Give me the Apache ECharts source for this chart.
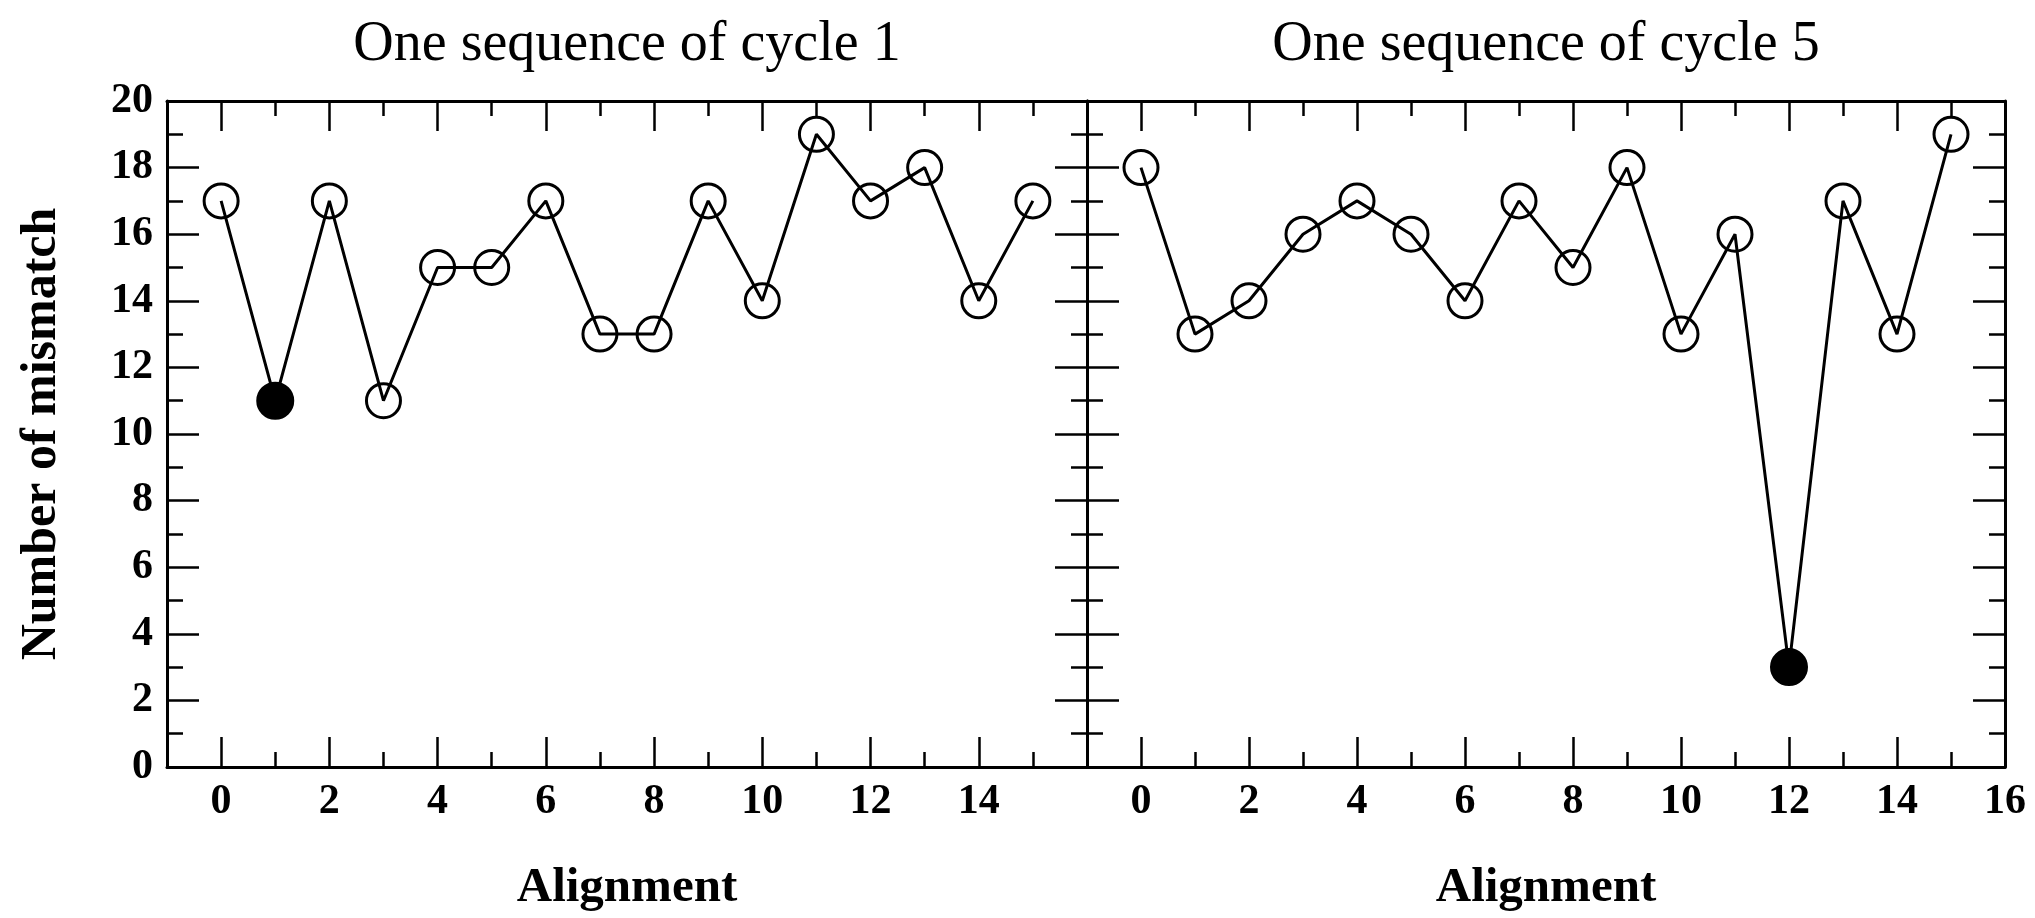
<!DOCTYPE html>
<html>
<head>
<meta charset="utf-8">
<script src="https://cdn.jsdelivr.net/npm/echarts@6/dist/echarts.min.js"></script>
<style>
  html, body { margin: 0; padding: 0; background: #fff; }
  #chart { width: 2035px; height: 918px; }
</style>
</head>
<body>
<div id="chart"></div>
<script>
// Mismatch counts per alignment shift for two sample sequences
const alignments = [0, 1, 2, 3, 4, 5, 6, 7, 8, 9, 10, 11, 12, 13, 14, 15];
const cycle1Mismatch = [17, 11, 17, 11, 15, 15, 17, 13, 13, 17, 14, 19, 17, 18, 14, 17];
const cycle5Mismatch = [18, 13, 14, 16, 17, 16, 14, 17, 15, 18, 13, 16, 3, 17, 13, 19];
// Alignment with the fewest mismatches (drawn as a filled dot)
const cycle1Best = 1;
const cycle5Best = 12;

const panelTitles = ['One sequence of cycle 1', 'One sequence of cycle 5'];
const xMajorTicks = [0, 2, 4, 6, 8, 10, 12, 14, 16];
const xMinorTicks = [1, 3, 5, 7, 9, 11, 13, 15];
const xLabelsLeft = [0, 2, 4, 6, 8, 10, 12, 14];
const xLabelsRight = [0, 2, 4, 6, 8, 10, 12, 14, 16];
const xName = 'Alignment';
const yName = 'Number of mismatch';

const FONT = '"Liberation Serif", "Times New Roman", serif';
const INK = '#000';

const grids = [
  { left: 167, top: 101, width: 920, height: 666 },
  { left: 1087, top: 101, width: 918, height: 666 }
];

function xAxes(gridIndex, labels) {
  const base = {
    type: 'value', gridIndex, min: -1, max: 16,
    splitLine: { show: false },
    axisLine: { show: true, onZero: false, lineStyle: { color: INK, width: 3 } }
  };
  return [
    Object.assign({}, base, {
      position: 'bottom',
      axisTick: { show: true, inside: true, length: 30, customValues: xMajorTicks, lineStyle: { color: INK, width: 2.5 } },
      axisLabel: { show: true, customValues: labels, margin: 14, color: INK, fontFamily: FONT, fontSize: 42, fontWeight: 'bold' },
      name: xName, nameLocation: 'middle', nameGap: 97,
      nameTextStyle: { color: INK, fontFamily: FONT, fontSize: 49, fontWeight: 'bold' }
    }),
    Object.assign({}, base, {
      position: 'bottom',
      axisLine: { show: false, onZero: false },
      axisTick: { show: true, inside: true, length: 15, customValues: xMinorTicks, lineStyle: { color: INK, width: 2.5 } },
      axisLabel: { show: false }
    }),
    Object.assign({}, base, {
      position: 'top',
      axisTick: { show: true, inside: true, length: 30, customValues: xMajorTicks, lineStyle: { color: INK, width: 2.5 } },
      axisLabel: { show: false }
    }),
    Object.assign({}, base, {
      position: 'top',
      axisLine: { show: false, onZero: false },
      axisTick: { show: true, inside: true, length: 15, customValues: xMinorTicks, lineStyle: { color: INK, width: 2.5 } },
      axisLabel: { show: false }
    })
  ];
}

function yAxes(gridIndex, withLabels) {
  const base = {
    type: 'value', gridIndex, min: 0, max: 20, interval: 2,
    splitLine: { show: false },
    axisLine: { show: true, onZero: false, lineStyle: { color: INK, width: 3 } },
    axisTick: { show: true, inside: true, length: 32, lineStyle: { color: INK, width: 2.5 } },
    minorTick: { show: true, splitNumber: 2, length: 16, lineStyle: { color: INK, width: 2.5 } },
    minorSplitLine: { show: false }
  };
  const left = Object.assign({}, base, {
    position: 'left',
    axisLabel: withLabels
      ? { show: true, margin: 14, color: INK, fontFamily: FONT, fontSize: 42, fontWeight: 'bold' }
      : { show: false }
  });
  if (withLabels) {
    Object.assign(left, {
      name: yName, nameLocation: 'middle', nameGap: 100, nameRotate: 90,
      nameTextStyle: { color: INK, fontFamily: FONT, fontSize: 50, fontWeight: 'bold' }
    });
  }
  const right = Object.assign({}, base, {
    position: 'right',
    axisLabel: { show: false }
  });
  return [left, right];
}

function seriesData(values, best) {
  return alignments.map((a, i) => i === best
    ? { value: [a, values[i]], symbolSize: 36, itemStyle: { color: INK, borderColor: INK, borderWidth: 2 } }
    : [a, values[i]]);
}

function lineSeries(values, best, xAxisIndex, yAxisIndex) {
  return {
    type: 'line',
    xAxisIndex, yAxisIndex,
    data: seriesData(values, best),
    symbol: 'circle',
    symbolSize: 34,
    showAllSymbol: true,
    lineStyle: { color: INK, width: 3 },
    itemStyle: { color: 'rgba(0,0,0,0)', borderColor: INK, borderWidth: 3 },
    emphasis: { disabled: true },
    animation: false,
    z: 3
  };
}

const option = {
  backgroundColor: '#fff',
  animation: false,
  grid: grids,
  xAxis: [].concat(xAxes(0, xLabelsLeft), xAxes(1, xLabelsRight)),
  yAxis: [].concat(yAxes(0, true), yAxes(1, false)),
  graphic: [
    {
      type: 'text', x: grids[0].left + grids[0].width / 2, y: 45,
      style: { text: panelTitles[0], fill: INK, font: '56px ' + FONT, align: 'center', verticalAlign: 'middle' }
    },
    {
      type: 'text', x: grids[1].left + grids[1].width / 2, y: 45,
      style: { text: panelTitles[1], fill: INK, font: '56px ' + FONT, align: 'center', verticalAlign: 'middle' }
    }
  ],
  series: [
    lineSeries(cycle1Mismatch, cycle1Best, 0, 0),
    lineSeries(cycle5Mismatch, cycle5Best, 4, 2)
  ]
};

const chart = echarts.init(document.getElementById('chart'), null, { renderer: 'canvas' });
chart.setOption(option);
</script>
</body>
</html>
